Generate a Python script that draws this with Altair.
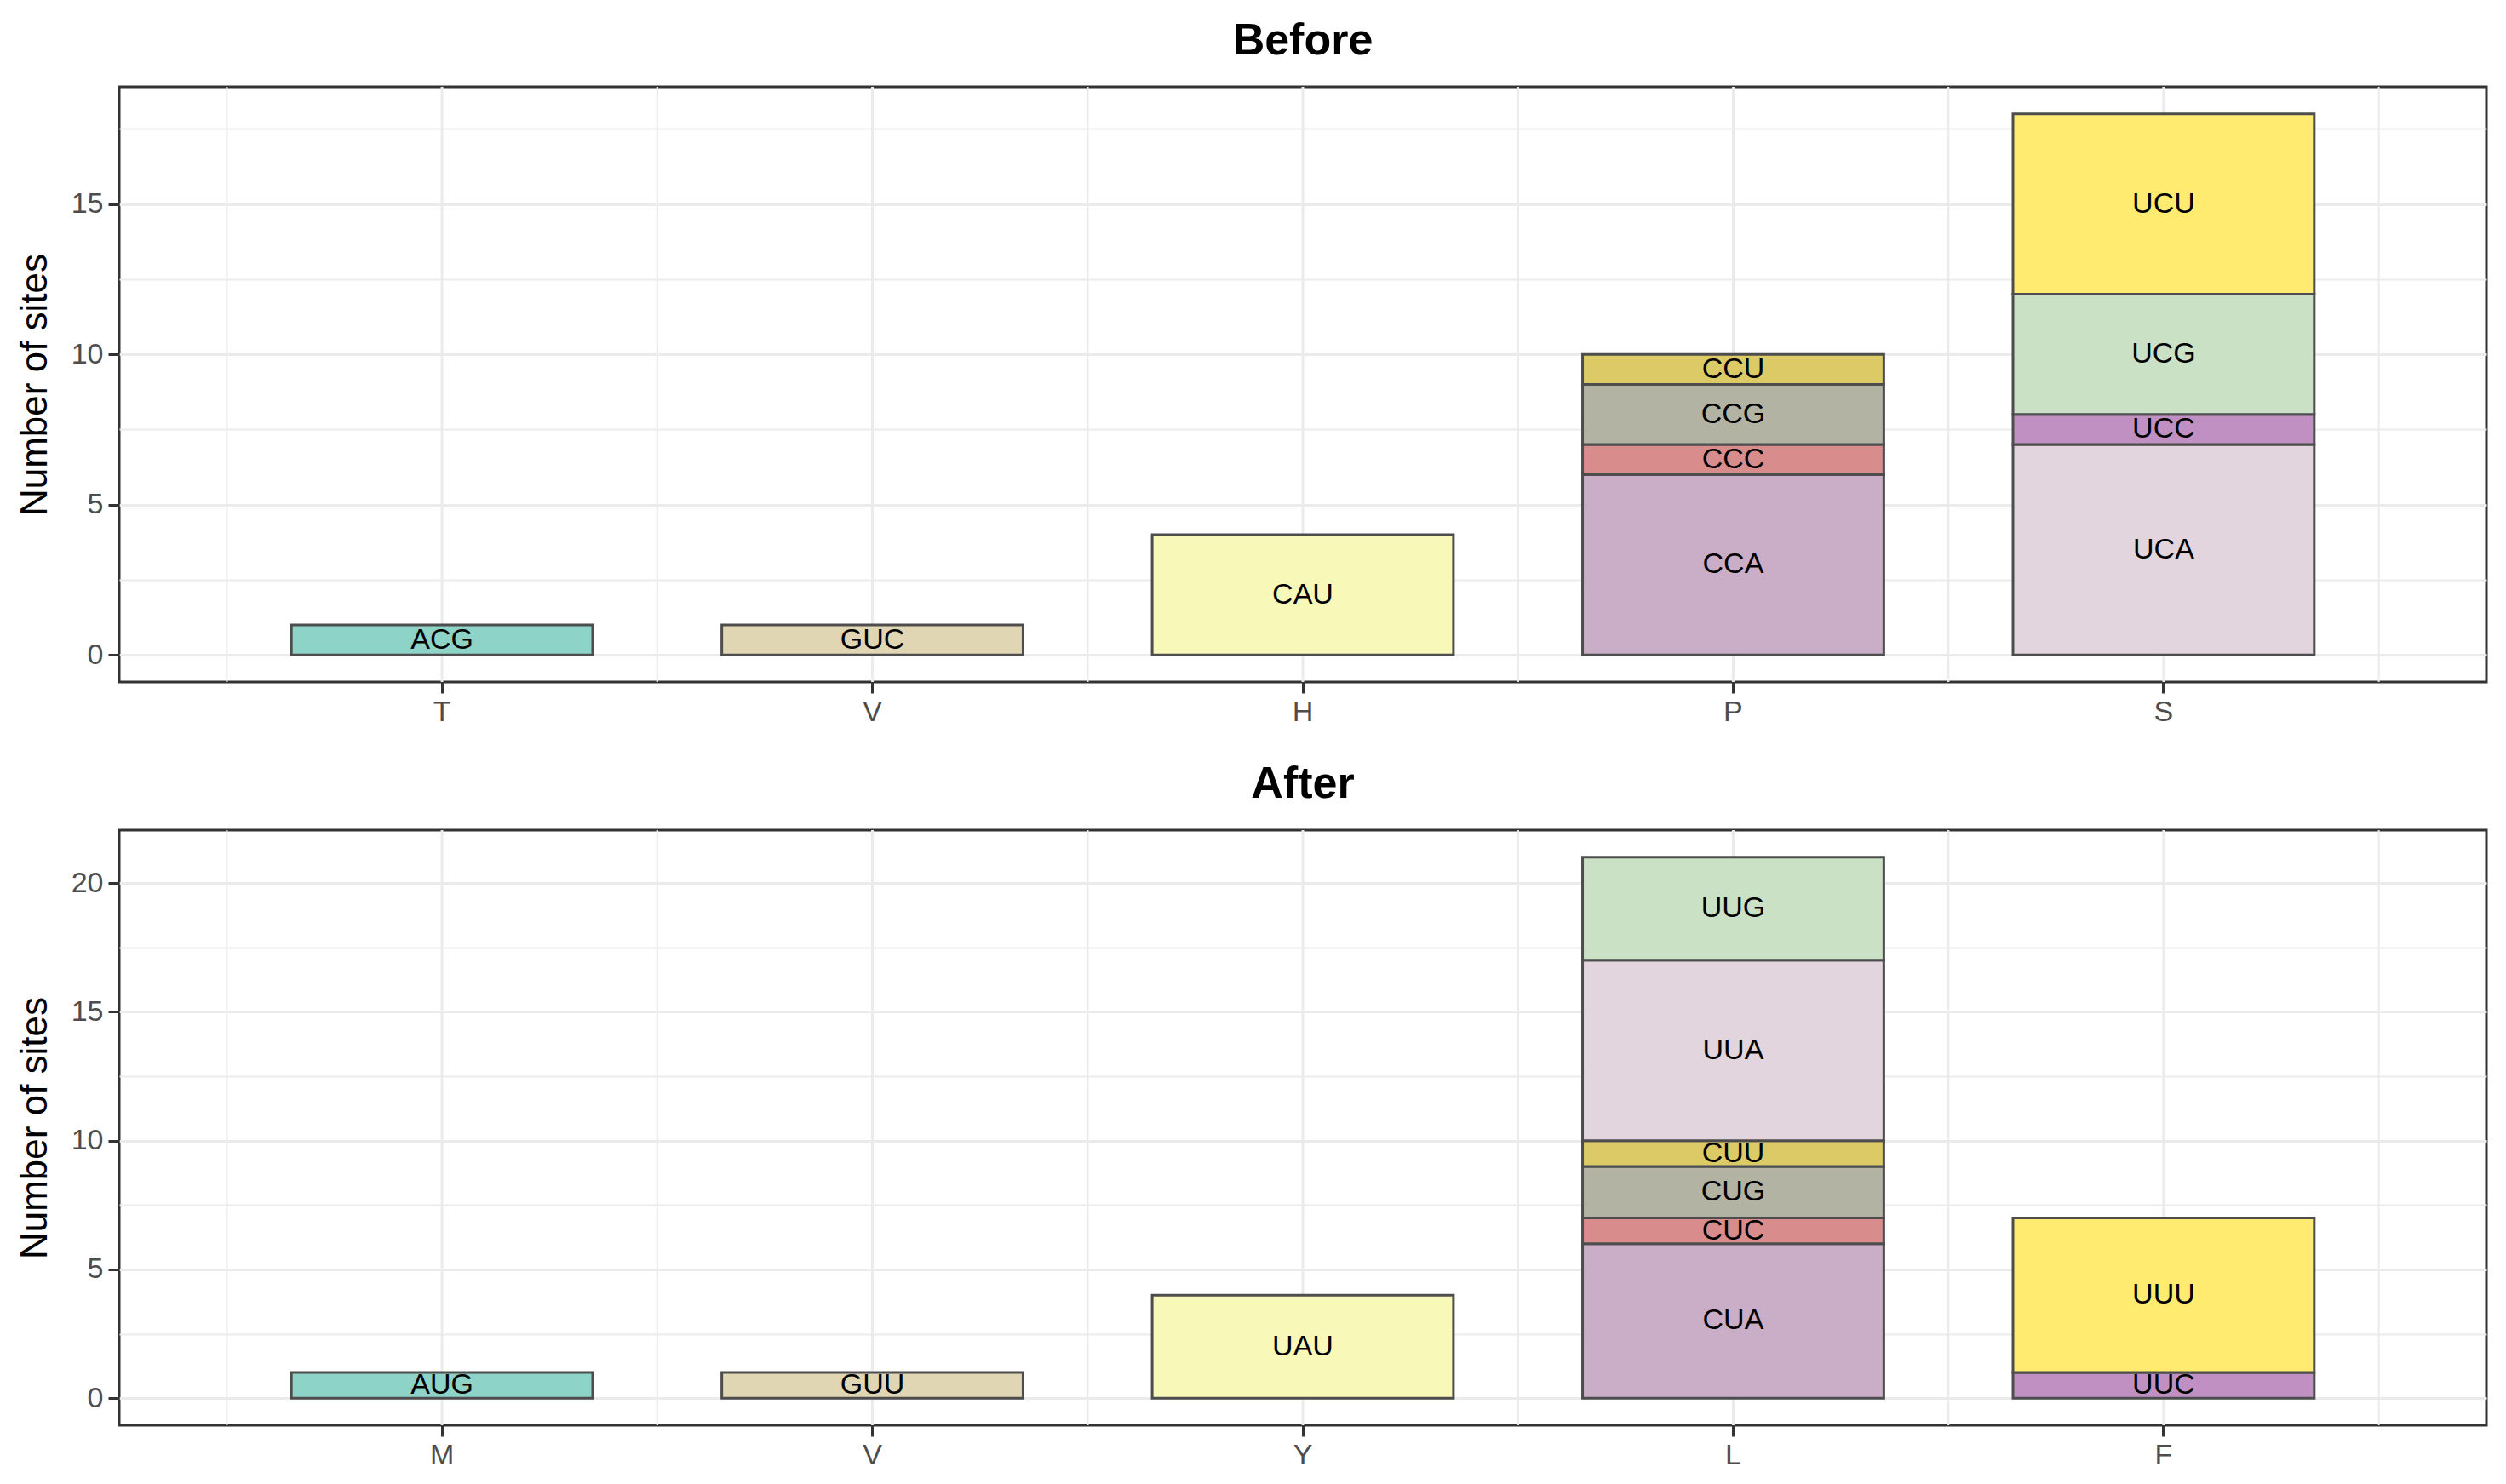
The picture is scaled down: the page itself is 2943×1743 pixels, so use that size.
import altair as alt
import pandas as pd

FONT = "Liberation Sans"

before_aa = ["T", "V", "H", "P", "P", "P", "P", "S", "S", "S", "S"]
before_codon = ["ACG", "GUC", "CAU", "CCA", "CCC", "CCG", "CCU", "UCA", "UCC", "UCG", "UCU"]
before_n = [1, 1, 4, 6, 1, 2, 1, 7, 1, 4, 6]
before_order = ["T", "V", "H", "P", "S"]

after_aa = ["M", "V", "Y", "L", "L", "L", "L", "L", "F", "L", "F"]
after_codon = ["AUG", "GUU", "UAU", "CUA", "CUC", "CUG", "CUU", "UUA", "UUC", "UUG", "UUU"]
after_n = [1, 1, 4, 6, 1, 2, 1, 7, 1, 4, 6]
after_order = ["M", "V", "Y", "L", "F"]

palette = ["#8ED3C7", "#E0D6B4", "#F8F8B8", "#CAADC6", "#D98C8C", "#B3B3A4",
           "#DBCA66", "#E3D5DD", "#C190C3", "#CAE1C5", "#FEEB6F"]

before_yticks = [0, 2.5, 5, 7.5, 10, 12.5, 15, 17.5]
after_yticks = [0, 2.5, 5, 7.5, 10, 12.5, 15, 17.5, 20]

cscale = alt.Scale(domain=before_codon + after_codon, range=palette + palette)

W, H = 2780, 699


def panel(aa, codon, n, order, title, yticks):
    df = pd.DataFrame({"aa": aa, "codon": codon, "n": n})
    cats = pd.DataFrame({"aa": order})
    total_max = df.groupby("aa")["n"].sum().max()
    pad = total_max * 0.05
    yscale = alt.Scale(domain=[-pad, total_max + pad], nice=False, zero=False)
    xscale = alt.Scale(domain=order, paddingInner=0, paddingOuter=0.25)

    xaxis = alt.Axis(title=None, domain=False, grid=False, labelAngle=0,
                     tickColor="#333333", tickWidth=3, tickSize=13,
                     labelFont=FONT, labelFontSize=34, labelColor="#4D4D4D",
                     labelPadding=5)
    yaxis = alt.Axis(values=yticks, title="Number of sites", domain=False,
                     grid=True, gridColor="#EBEBEB",
                     gridWidth={"condition": {"test": "datum.value % 5 === 0", "value": 3}, "value": 2},
                     tickOpacity={"condition": {"test": "datum.value % 5 === 0", "value": 1}, "value": 0},
                     labelExpr="datum.value % 5 === 0 ? datum.label : ''",
                     labelOverlap=False,
                     tickColor="#333333", tickWidth=3, tickSize=13,
                     labelFont=FONT, labelFontSize=34, labelColor="#4D4D4D",
                     labelPadding=6,
                     titleFont=FONT, titleFontSize=44, titleFontWeight="normal",
                     titleColor="black", titlePadding=20)

    grid_major = alt.Chart(cats).mark_rule(color="#EBEBEB", strokeWidth=3).encode(
        x=alt.X("aa:N", scale=xscale, bandPosition=0.5, axis=xaxis))
    grid_minor0 = alt.Chart(cats).mark_rule(color="#EBEBEB", strokeWidth=2).encode(
        x=alt.X("aa:N", scale=xscale, bandPosition=0, axis=xaxis))
    grid_minor1 = alt.Chart(cats).mark_rule(color="#EBEBEB", strokeWidth=2).encode(
        x=alt.X("aa:N", scale=xscale, bandPosition=1, axis=xaxis))

    base = alt.Chart(df).transform_stack(
        stack="n", groupby=["aa"], as_=["y0", "y1"],
        sort=[alt.SortField("codon", order="ascending")]
    ).transform_calculate(mid="(datum.y0 + datum.y1) / 2")

    bars = base.mark_bar(width={"band": 0.7}, stroke="#4D4D4D", strokeWidth=3).encode(
        x=alt.X("aa:N", scale=xscale, axis=xaxis),
        y=alt.Y("y0:Q", scale=yscale, axis=yaxis),
        y2="y1:Q",
        color=alt.Color("codon:N", scale=cscale, legend=None),
    )
    labels = base.mark_text(font=FONT, fontSize=34, color="black").encode(
        x=alt.X("aa:N", scale=xscale, axis=xaxis),
        y=alt.Y("mid:Q", scale=yscale, axis=yaxis),
        text="codon:N",
    )
    return alt.layer(grid_major, grid_minor0, grid_minor1, bars, labels).properties(
        width=W, height=H,
        title=alt.TitleParams(title, font=FONT, fontSize=52, fontWeight="bold",
                              color="black", anchor="middle", baseline="bottom",
                              offset=-26),
    )


top = panel(before_aa, before_codon, before_n, before_order, "Before", before_yticks)
bottom = panel(after_aa, after_codon, after_n, after_order, "After", after_yticks)

chart = alt.vconcat(top, bottom, spacing=174, bounds="flush").properties(
    padding={"left": 9, "top": 12, "right": 10, "bottom": 10},
    background="white",
).configure_view(stroke="#333333", strokeWidth=3)

chart.save("out.html", embed_options={"renderer": "svg", "actions": False})
